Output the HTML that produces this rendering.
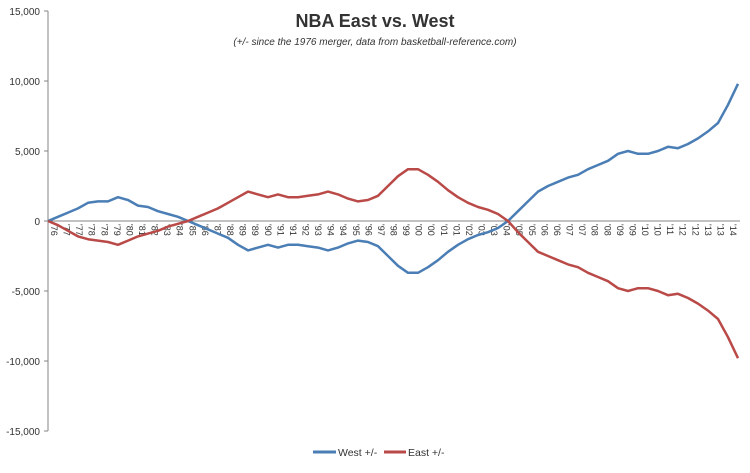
<!DOCTYPE html>
<html><head><meta charset="utf-8">
<style>
body{margin:0;background:#fff;width:750px;height:468px;overflow:hidden;font-family:"Liberation Sans",Arial,sans-serif;}
svg text{font-family:"Liberation Sans",Arial,sans-serif;fill:#333;}
</style></head>
<body>
<svg id="chart" width="750" height="468" viewBox="0 0 750 468" xmlns="http://www.w3.org/2000/svg">
<text x="375" y="27" text-anchor="middle" font-size="18" font-weight="bold" fill="#000">NBA East vs. West</text>
<text x="375" y="45" text-anchor="middle" font-size="10" font-style="italic" fill="#000">(+/- since the 1976 merger, data from basketball-reference.com)</text>
<g id="axes"></g>
<g id="series"></g>
<g>
<line x1="313" y1="452" x2="336" y2="452" stroke="#4a7eb5" stroke-width="3"/>
<text x="338" y="456" font-size="10.5">West +/-</text>
<line x1="384" y1="452" x2="406" y2="452" stroke="#b94a48" stroke-width="3"/>
<text x="408" y="456" font-size="10.5">East +/-</text>
</g>
</svg>
<script>
const yTicks=[15000,10000,5000,0,-5000,-10000,-15000];
const yTickLabels=["15,000","10,000","5,000","0","-5,000","-10,000","-15,000"];
const xLabels=["'76","'77","'77","'78","'78","'79","'80","'81","'82","'83","'84","'85","'86","'87","'88","'89","'89","'90","'91","'91","'92","'93","'94","'94","'95","'96","'97","'98","'99","'00","'00","'01","'01","'02","'03","'03","'04","'05","'05","'06","'06","'07","'07","'08","'08","'09","'09","'10","'10","'11","'12","'12","'13","'13","'14"];
const westValues=[0,300,600,900,1300,1400,1400,1700,1500,1100,1000,700,500,300,0,-300,-600,-900,-1200,-1700,-2100,-1900,-1700,-1900,-1700,-1700,-1800,-1900,-2100,-1900,-1600,-1400,-1500,-1800,-2500,-3200,-3700,-3700,-3300,-2800,-2200,-1700,-1300,-1000,-800,-500,0,700,1400,2100,2500,2800,3100,3300,3700,4000,4300,4800,5000,4800,4800,5000,5300,5200,5500,5900,6400,7000,8300,9800];
const eastValues=[0,-300,-700,-1100,-1300,-1400,-1500,-1700,-1400,-1100,-900,-700,-400,-200,0,300,600,900,1300,1700,2100,1900,1700,1900,1700,1700,1800,1900,2100,1900,1600,1400,1500,1800,2500,3200,3700,3700,3300,2800,2200,1700,1300,1000,800,500,0,-800,-1500,-2200,-2500,-2800,-3100,-3300,-3700,-4000,-4300,-4800,-5000,-4800,-4800,-5000,-5300,-5200,-5500,-5900,-6400,-7000,-8300,-9800];

const NS="http://www.w3.org/2000/svg";
const X0=48,X1=738,Y0=221,PXPER=70/5000;
const yScale=v=>Y0-v*PXPER;
const xScale=(i,n)=>X0+(X1-X0)*i/(n-1);
const axes=document.getElementById('axes');
const series=document.getElementById('series');
function mk(tag,attrs,parent){const e=document.createElementNS(NS,tag);for(const k in attrs)e.setAttribute(k,attrs[k]);parent.appendChild(e);return e;}

const yAxis=mk('line',{x1:X0,y1:yScale(15000),x2:X0,y2:yScale(-15000),stroke:'#868686','stroke-width':1},axes);


yTicks.forEach((v,i)=>{
  const t=mk('line',{x1:X0-4,y1:yScale(v),x2:X0,y2:yScale(v),stroke:'#868686'},axes);
  
  
  const l=mk('text',{x:X0-8,y:yScale(v)+4,'text-anchor':'end','font-size':'10'},axes);
  
  
  l.textContent=yTickLabels[i];
});
const xAxis=mk('line',{x1:X0,y1:Y0,x2:X1+2,y2:Y0,stroke:'#868686'},axes);


const LX0=48,LX1=727;
xLabels.forEach((s,i)=>{
  const x=LX0+(LX1-LX0)*i/(xLabels.length-1);
  const l=mk('text',{x:0,y:0,'font-size':'9',transform:`translate(${x+3},${Y0+3}) rotate(90)`},axes);
  
  
  l.textContent=s;
});
function draw(vals,color,name){
  const d=vals.map((v,i)=>(i?'L':'M')+xScale(i,vals.length).toFixed(1)+','+yScale(v).toFixed(1)).join(' ');
  const p=mk('path',{d:d,fill:'none',stroke:color,'stroke-width':2.5,'stroke-linejoin':'round'},series);
  
  
}
draw(westValues,'#4a7eb5','west-line');
draw(eastValues,'#b94a48','east-line');
</script>
</body></html>
